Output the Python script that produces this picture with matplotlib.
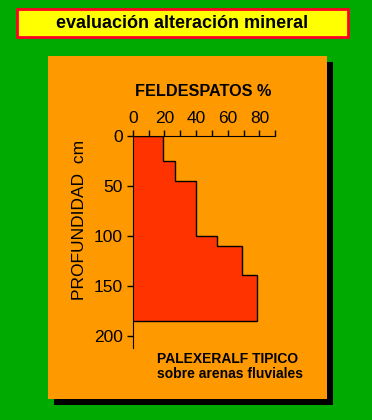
import matplotlib
matplotlib.use("Agg")
import matplotlib.pyplot as plt
from matplotlib.patches import Rectangle
import numpy as np

plt.rcParams["font.family"] = ["Liberation Sans", "DejaVu Sans"]

# depth limits (cm) and feldspar content (%) per horizon
depth_edges = [0, 25, 45, 100, 110, 139, 185]
feldespatos = [19, 27, 40, 53.5, 69, 78.5]
x_ticks = [0, 20, 40, 60, 80]
y_ticks = [0, 50, 100, 150, 200]

GREEN = "#00aa00"
ORANGE = "#ff9900"
RED = "#ff3300"

fig = plt.figure(figsize=(3.72, 4.2), dpi=100)
fig.patch.set_facecolor(GREEN)


def box(x0, y0, x1, y1, **kw):
    # pixel coords, origin top-left
    fig.patches.append(Rectangle((x0 / 372, 1 - y1 / 420), (x1 - x0) / 372,
                                 (y1 - y0) / 420, transform=fig.transFigure,
                                 zorder=0, **kw))


# title box
box(17, 9, 348, 37, facecolor="#ffff00", edgecolor="#ff0022", linewidth=2)
fig.text(182 / 372, 1 - 24 / 420, "evaluación alteración mineral", ha="center",
         va="center", fontsize=13, fontweight="bold")

# panel with shadow
box(54, 62, 333, 405, facecolor="black", edgecolor="none")
box(48, 56, 327, 399, facecolor=ORANGE, edgecolor="none")

ax = fig.add_axes([132.7 / 372, 1 - 348 / 420, 142.6 / 372, 212 / 420])
ax.set_zorder(2)
ax.set_facecolor("none")
ax.stairs(feldespatos, depth_edges, orientation="horizontal", fill=True,
          facecolor=RED, edgecolor="black", linewidth=1)
ax.set_xlim(0, 90)
ax.set_ylim(212, 0)
ax.xaxis.tick_top()
ax.set_xticks(x_ticks)
ax.set_xticks(np.arange(10, 100, 20), minor=True)
ax.set_yticks(y_ticks)
for s in ["right", "bottom"]:
    ax.spines[s].set_visible(False)
ax.tick_params(axis="both", which="both", direction="out", length=4,
               width=1, labelsize=12.5, pad=3)
ax.tick_params(axis="x", which="minor", length=4)

fig.text(203 / 372, 1 - 91 / 420, "FELDESPATOS %", ha="center", va="center",
         fontsize=11.7, fontweight="bold")
fig.text(80 / 372, 1 - 220 / 420, "PROFUNDIDAD  cm", ha="center", va="center",
         rotation=90, fontsize=12.5)
fig.text(157 / 372, 1 - 359 / 420, "PALEXERALF TIPICO", ha="left", va="center",
         fontsize=10, fontweight="bold")
fig.text(157 / 372, 1 - 374 / 420, "sobre arenas fluviales", ha="left",
         va="center", fontsize=10, fontweight="bold")

fig.savefig("out.png", dpi=100, facecolor=GREEN)
